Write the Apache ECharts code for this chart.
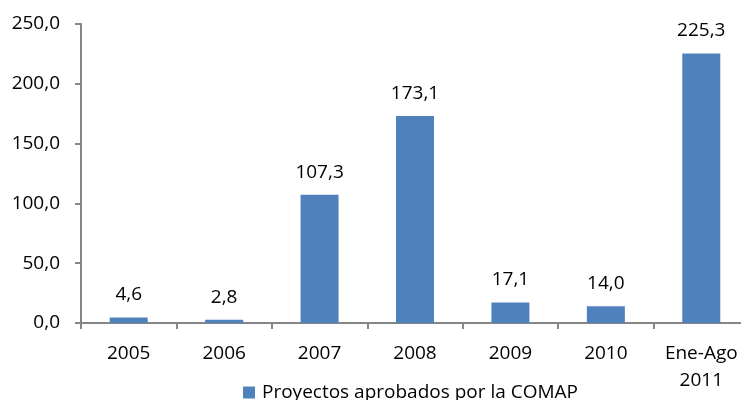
<!DOCTYPE html>
<html>
<head>
<meta charset="utf-8">
<script src="https://cdn.jsdelivr.net/npm/echarts@6/dist/echarts.min.js"></script>
<style>
html, body { margin: 0; padding: 0; background: #fff; overflow: hidden; }
#chart { width: 750px; height: 400px; }
</style>
</head>
<body>
<div id="chart"></div>
<script>
// categorias y valores
var categories = ['2005', '2006', '2007', '2008', '2009', '2010', 'Ene-Ago\n2011'];
var values = [4.6, 2.8, 107.3, 173.1, 17.1, 14.0, 225.3];
var seriesName = 'Proyectos aprobados por la COMAP';

function coma(v) {
    return v.toFixed(1).replace('.', ',');
}

var font = '"Open Sans", "Noto Sans", sans-serif';
var axisColor = '#868686';

var chart = echarts.init(document.getElementById('chart'));
chart.setOption({
    animation: false,
    textStyle: { fontFamily: font },
    grid: { left: 81, right: 1, top: 24, bottom: 77, containLabel: false },
    legend: {
        data: [seriesName],
        left: 243,
        top: 383,
        padding: 0,
        icon: 'rect',
        itemWidth: 12,
        itemHeight: 12,
        itemGap: 7,
        textStyle: { fontSize: 19, color: '#000', fontFamily: font, padding: [0, 0, 0, 2] }
    },
    xAxis: {
        type: 'category',
        data: categories,
        axisLine: { lineStyle: { color: axisColor, width: 2 } },
        axisTick: { show: true, length: 6, lineStyle: { color: axisColor, width: 2 } },
        axisLabel: { fontSize: 19, color: '#000', margin: 17, lineHeight: 27, interval: 0 }
    },
    yAxis: {
        type: 'value',
        min: 0,
        max: 250,
        interval: 50,
        splitLine: { show: false },
        axisLine: { show: true, lineStyle: { color: axisColor, width: 2 } },
        axisTick: { show: true, length: 6, lineStyle: { color: axisColor, width: 2 } },
        axisLabel: { fontSize: 19, color: '#000', margin: 21, formatter: function (v) { return coma(v); } }
    },
    series: [{
        name: seriesName,
        type: 'bar',
        data: values,
        barWidth: 38,
        itemStyle: { color: '#4F81BD' },
        label: {
            show: true,
            position: 'top',
            distance: 13,
            fontSize: 19,
            color: '#000',
            formatter: function (p) { return coma(p.value); }
        }
    }]
});
</script>
</body>
</html>
